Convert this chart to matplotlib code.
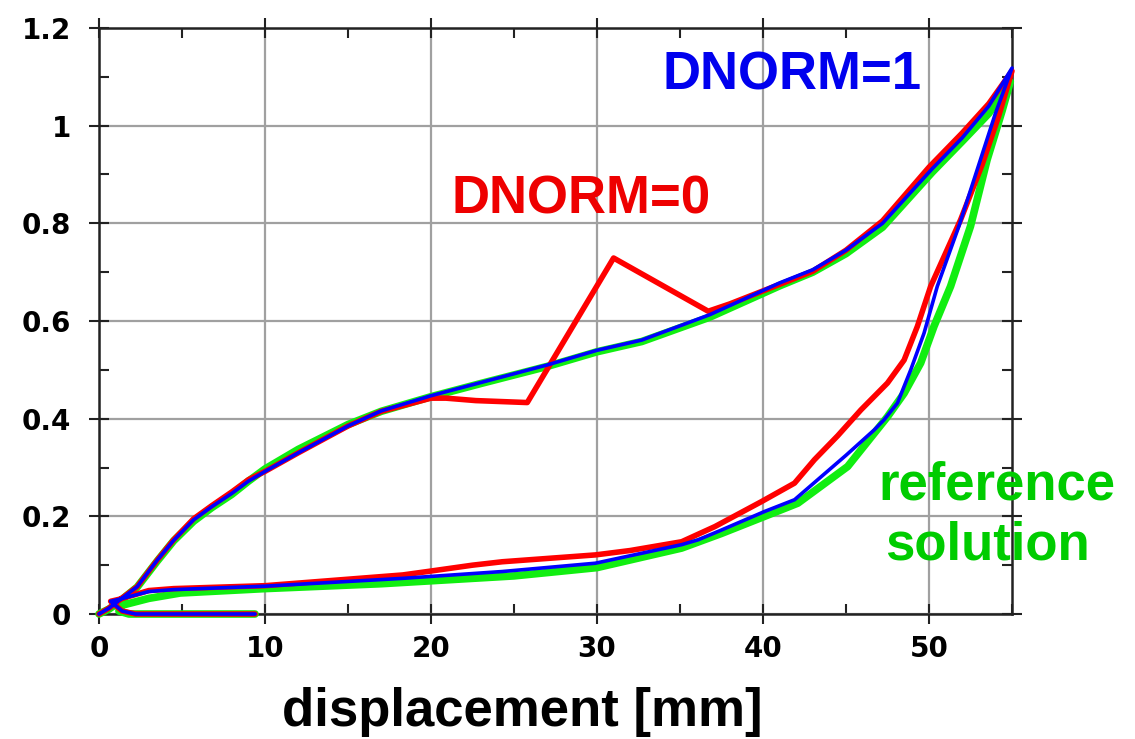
import matplotlib
matplotlib.use("Agg")
import matplotlib.pyplot as plt
from matplotlib.ticker import MultipleLocator, FixedLocator

# ---- data ----
# reference solution (green)
ref_x = [0, 0.6, 1.1, 2.3, 3.5, 4.5, 5.7, 6.8, 8.0, 9.0, 10.0, 12.0, 15.0, 17.0, 20.0, 23.0, 27.0, 30.0,
         32.7, 36.8, 41.0, 43.0, 45.0, 47.2, 50.2, 52.0, 53.6, 54.9,
         54.4, 53.5, 52.5, 51.3, 50.3, 49.5, 48.5, 47.5, 45.1, 42.1, 40.1, 37.5, 35.1, 30.0, 25.0, 20.0,
         17.0, 10.0, 4.9, 3.0, 1.4, 1.2, 1.8, 9.4]
ref_y = [0, 0.010, 0.022, 0.055, 0.108, 0.150, 0.190, 0.218, 0.245, 0.272, 0.297, 0.337, 0.388, 0.415,
         0.445, 0.472, 0.507, 0.537, 0.558, 0.608, 0.672, 0.700, 0.738, 0.792, 0.905, 0.968, 1.025, 1.090,
         1.030, 0.930, 0.794, 0.671, 0.589, 0.514, 0.452, 0.404, 0.302, 0.227, 0.200, 0.165, 0.135, 0.095,
         0.078, 0.068, 0.062, 0.052, 0.043, 0.032, 0.018, 0.006, 0.0, 0.0]

# DNORM=0 (red)
d0_x = [0, 0.6, 1.1, 2.3, 3.5, 4.5, 5.7, 6.8, 8.0, 9.0, 10.0, 12.0, 15.0, 17.0, 20.0, 20.9, 22.7, 25.8,
        31.0, 36.7, 38.0, 41.0, 43.0, 45.0, 47.2, 50.0, 52.0, 53.6, 55.0,
        54.2, 53.2, 51.9, 50.1, 49.3, 48.5, 47.5, 45.9, 44.5, 43.1, 41.9, 39.9, 37.1, 35.1, 32.0, 29.9,
        24.3, 22.5, 20.0, 18.3, 10.0, 4.5, 3.0, 1.2, 0.7, 1.4, 2.2, 9.4]
d0_y = [0, 0.012, 0.025, 0.056, 0.110, 0.152, 0.195, 0.222, 0.250, 0.275, 0.292, 0.330, 0.385, 0.415,
        0.442, 0.442, 0.437, 0.433, 0.729, 0.620, 0.635, 0.675, 0.702, 0.745, 0.805, 0.915, 0.985, 1.045,
        1.112, 1.020, 0.920, 0.807, 0.671, 0.589, 0.520, 0.473, 0.418, 0.365, 0.316, 0.268, 0.230, 0.179,
        0.148, 0.130, 0.121, 0.107, 0.100, 0.088, 0.080, 0.058, 0.052, 0.048, 0.030, 0.026, 0.006, 0.0,
        0.0]

# DNORM=1 (blue)
d1_x = [0, 0.6, 1.1, 2.3, 3.5, 4.5, 5.7, 6.8, 8.0, 9.0, 10.0, 12.0, 15.0, 17.0, 20.0, 23.0, 27.0, 30.0,
        32.7, 36.8, 41.0, 43.0, 45.0, 47.2, 50.2, 52.0, 53.6, 55.0,
        54.0, 53.0, 51.8, 50.5, 49.7, 48.9, 48.1, 47.3, 46.7, 45.0, 43.5, 41.9, 40.1, 37.5, 36.1, 35.1,
        29.9, 24.3, 18.3, 10.0, 4.5, 3.0, 1.2, 0.7, 1.4, 2.2, 9.4]
d1_y = [0, 0.012, 0.025, 0.056, 0.110, 0.151, 0.193, 0.220, 0.247, 0.272, 0.292, 0.330, 0.385, 0.416,
        0.447, 0.474, 0.510, 0.540, 0.561, 0.613, 0.678, 0.705, 0.745, 0.800, 0.912, 0.975, 1.040, 1.118,
        1.025, 0.920, 0.794, 0.671, 0.575, 0.500, 0.432, 0.398, 0.377, 0.325, 0.281, 0.234, 0.210, 0.172,
        0.152, 0.142, 0.104, 0.087, 0.073, 0.057, 0.050, 0.046, 0.030, 0.026, 0.006, 0.0, 0.0]

x_ticks = [0, 10, 20, 30, 40, 50]
x_tick_labels = ["0", "10", "20", "30", "40", "50"]
y_ticks = [0, 0.2, 0.4, 0.6, 0.8, 1.0, 1.2]
y_tick_labels = ["0", "0.2", "0.4", "0.6", "0.8", "1", "1.2"]

W, H = 1135, 739
fig = plt.figure(figsize=(W / 100, H / 100), dpi=100)
ax = fig.add_axes([99 / W, 1 - 614 / H, (1012 - 99) / W, (614 - 28) / H])

ax.plot(ref_x, ref_y, color="#11ee11", lw=5.5, solid_joinstyle="round", solid_capstyle="round",
        zorder=3, clip_on=False)
ax.plot(d0_x, d0_y, color="#ff0000", lw=4.0, solid_joinstyle="round", solid_capstyle="round",
        zorder=4, clip_on=False)
ax.plot(d1_x, d1_y, color="#0000ff", lw=2.6, solid_joinstyle="round", solid_capstyle="round",
        zorder=5, clip_on=False)

ax.set_xlim(0, 55)
ax.set_ylim(0, 1.2)
ax.xaxis.set_major_locator(FixedLocator(x_ticks))
ax.yaxis.set_major_locator(FixedLocator(y_ticks))
ax.set_xticklabels(x_tick_labels)
ax.set_yticklabels(y_tick_labels)
ax.xaxis.set_minor_locator(MultipleLocator(5))
ax.yaxis.set_minor_locator(MultipleLocator(0.1))
ax.tick_params(which="major", direction="inout", length=14, width=1.5, top=True, right=True,
               labelsize=20, color="#222222")
ax.tick_params(axis="y", which="major", pad=13)
ax.tick_params(axis="x", which="major", pad=8)
ax.tick_params(which="minor", direction="in", length=7, width=1.5, top=True, right=True, color="#222222")
for lab in ax.get_xticklabels() + ax.get_yticklabels():
    lab.set_fontweight("bold")
ax.grid(True, which="major", color="#a0a0a0", lw=1.6, zorder=0)
for s in ax.spines.values():
    s.set_linewidth(1.8)
    s.set_color("#222222")

font = "Liberation Sans"
fig.text(792 / W, 1 - 75 / H, "DNORM=1", color="#0000ee", fontsize=38, fontweight="bold",
         family=font, ha="center", va="center")
fig.text(581 / W, 1 - 200 / H, "DNORM=0", color="#ee0000", fontsize=38, fontweight="bold",
         family=font, ha="center", va="center")
fig.text(878 / W, 1 - 485 / H, "reference", color="#00cc00", fontsize=38, fontweight="bold",
         family=font, ha="left", va="center")
fig.text(885 / W, 1 - 545 / H, "solution", color="#00cc00", fontsize=38, fontweight="bold",
         family=font, ha="left", va="center")
fig.text(522 / W, 1 - 712 / H, "displacement [mm]", color="black", fontsize=38, fontweight="bold",
         family=font, ha="center", va="center")

fig.savefig("out.png", dpi=100)
